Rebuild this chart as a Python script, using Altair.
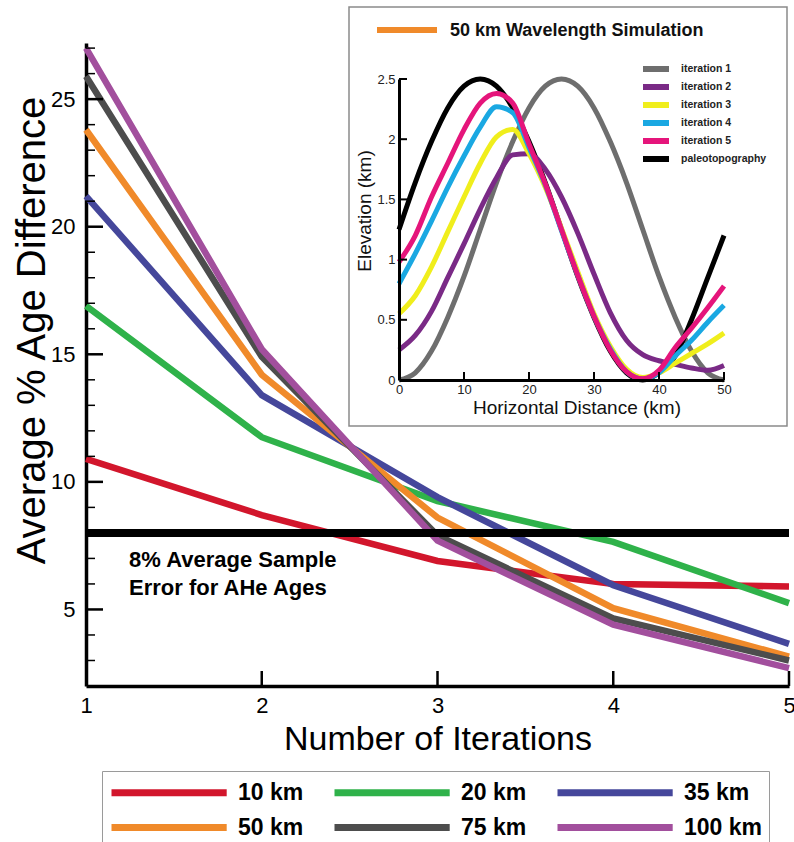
import altair as alt
import pandas as pd

# ---------------- main chart data ----------------
iterations = [1, 2, 3, 4, 5]
series_names = ["10 km", "20 km", "35 km", "50 km", "75 km", "100 km"]
series_colors = ["#d2162c", "#2fb24a", "#45479b", "#f08a2a", "#4d4d4d", "#a24f9d"]
diff_10 = [10.9, 8.7, 6.9, 6.0, 5.9]
diff_20 = [16.9, 11.75, 9.25, 7.65, 5.25]
diff_35 = [21.2, 13.4, 9.4, 5.95, 3.65]
diff_50 = [23.8, 14.2, 8.6, 5.05, 3.15]
diff_75 = [25.9, 14.9, 7.9, 4.65, 3.0]
diff_100 = [27.0, 15.2, 7.7, 4.4, 2.7]
error_level = [8]
note_lines = ["8% Average Sample", "Error for AHe Ages"]
note_x = [1.245, 1.245]
note_y = [6.92, 5.86]
y_major = [5, 10, 15, 20, 25]
y_minor = [3, 4, 6, 7, 8, 9, 11, 12, 13, 14, 16, 17, 18, 19, 21, 22, 23, 24, 26, 27]
x_labels = [1, 2, 3, 4, 5]
x_ticks = [2, 3, 4, 5]

# ---------------- inset data ----------------
inset_title = ["50 km Wavelength Simulation"]
inset_x_title = ["Horizontal Distance (km)"]
inset_y_title = ["Elevation (km)"]
inset_names = ["iteration 1", "iteration 2", "iteration 3", "iteration 4", "iteration 5", "paleotopography"]
inset_colors = ["#6e6e6e", "#7a2a86", "#f0ee1c", "#1aa8e2", "#e5157b", "#000000"]
draw_order = ["iteration 1", "paleotopography", "iteration 2", "iteration 3", "iteration 4", "iteration 5"]
dist = [0, 2.5, 5, 7.5, 10, 12.5, 15, 17.5, 20, 22.5, 25, 27.5, 30, 32.5, 35, 37.5, 40, 42.5, 45, 47.5, 50]
it1 = [0, 0.06, 0.24, 0.52, 0.86, 1.25, 1.64, 1.98, 2.26, 2.44, 2.5, 2.44, 2.26, 1.98, 1.64, 1.25, 0.86, 0.52, 0.24, 0.06, 0]
it2 = [0.25, 0.37, 0.57, 0.85, 1.13, 1.42, 1.68, 1.87, 1.88, 1.75, 1.52, 1.22, 0.88, 0.56, 0.33, 0.21, 0.16, 0.13, 0.1, 0.08, 0.12]
it3 = [0.55, 0.7, 0.94, 1.23, 1.52, 1.8, 2.02, 2.08, 1.88, 1.6, 1.26, 0.9, 0.55, 0.28, 0.09, 0.02, 0.06, 0.14, 0.22, 0.3, 0.39]
it4 = [0.8, 1.05, 1.32, 1.6, 1.86, 2.1, 2.27, 2.22, 1.93, 1.62, 1.24, 0.87, 0.53, 0.26, 0.07, 0.01, 0.06, 0.2, 0.33, 0.48, 0.62]
it5 = [0.98, 1.2, 1.52, 1.8, 2.08, 2.3, 2.38, 2.3, 1.96, 1.63, 1.25, 0.87, 0.53, 0.25, 0.07, 0.01, 0.08, 0.27, 0.43, 0.6, 0.78]
paleo = [1.25, 1.64, 1.98, 2.26, 2.44, 2.5, 2.44, 2.26, 1.98, 1.64, 1.25, 0.86, 0.52, 0.24, 0.06, 0.0, 0.06, 0.2, 0.5, 0.85, 1.2]
inset_x_labels = [0, 10, 20, 30, 40, 50]
inset_y_labels = [0, 0.5, 1, 1.5, 2, 2.5]
inset_x_ticks = [10, 20, 30, 40, 50]
inset_y_ticks = [0.5, 1, 1.5, 2, 2.5]

FONT = "Liberation Sans"

# ---------------- main chart ----------------
rows = []
for name, vals in zip(series_names, [diff_10, diff_20, diff_35, diff_50, diff_75, diff_100]):
    for it, v in zip(iterations, vals):
        rows.append({"iteration": it, "pct": v, "series": name})
main_df = pd.DataFrame(rows)

x_scale = alt.Scale(domain=[1, 5], nice=False, zero=False)
y_scale = alt.Scale(domain=[2, 27.2], nice=False, zero=False)

x_axis = alt.Axis(values=x_labels, format="d", ticks=False, grid=False, domainWidth=3.5,
                  domainColor="black", labelFontSize=22, labelColor="black", labelPadding=9,
                  labelFlush=False, title="Number of Iterations", titleFontSize=34,
                  titleFontWeight="normal", titleColor="black", titlePadding=6)
y_axis = alt.Axis(values=y_major, format="d", ticks=False, grid=False, domainWidth=3.5,
                  domainColor="black", labelFontSize=22, labelColor="black", labelPadding=11,
                  labelFlush=False, title="Average % Age Difference", titleFontSize=40,
                  titleFontWeight="normal", titleColor="black", titleX=-54, titleY=287,
                  titleAlign="center", titleBaseline="middle")

main_legend = alt.Legend(orient="none", legendX=16, legendY=728, direction="horizontal",
                         columns=3, title=None, symbolType="M-1,0H8.6", symbolSize=576,
                         symbolStrokeWidth=7, labelFontSize=23, labelFontWeight="bold",
                         labelFont=FONT, labelColor="black", labelOffset=99,
                         columnPadding=16, rowPadding=5, padding=6, strokeColor="#9a9a9a",
                         fillColor="white", labelLimit=200)

color_main = alt.Color("series:N", scale=alt.Scale(domain=series_names, range=series_colors),
                       legend=main_legend)
X = alt.X("iteration:Q", scale=x_scale, axis=x_axis)
Y = alt.Y("pct:Q", scale=y_scale, axis=y_axis)

line_layers = [
    alt.Chart(main_df).transform_filter(alt.datum.series == name)
    .mark_line(strokeWidth=6.5)
    .encode(x=X, y=Y, color=color_main)
    for name in series_names
]

err_df = pd.DataFrame({"iteration": [iterations[0]], "iteration_end": [iterations[-1]], "pct": error_level})
err_rule = alt.Chart(err_df).mark_rule(strokeWidth=8, color="black").encode(
    x=X, x2="iteration_end:Q", y=Y)

note_df = pd.DataFrame({"iteration": note_x, "pct": note_y, "note": note_lines})
note = alt.Chart(note_df).mark_text(align="left", baseline="middle", fontSize=22,
                                    fontWeight="bold", color="black").encode(
    x=X, y=Y, text="note:N")

ymaj = alt.Chart(pd.DataFrame({"pct": y_major})).mark_rule(strokeWidth=2.5, color="black").encode(
    y=Y, x=alt.value(0), x2=alt.value(17))
ymin = alt.Chart(pd.DataFrame({"pct": y_minor})).mark_rule(strokeWidth=1.5, color="black").encode(
    y=Y, x=alt.value(0), x2=alt.value(9))
xmaj = alt.Chart(pd.DataFrame({"iteration": x_ticks})).mark_rule(strokeWidth=2.5, color="black").encode(
    x=X, y=alt.value(643), y2=alt.value(628))

main = alt.layer(*line_layers, err_rule, note, ymaj, ymin, xmaj)

# ---------------- inset ----------------
irows = []
for name, vals in zip(inset_names, [it1, it2, it3, it4, it5, paleo]):
    for d, e in zip(dist, vals):
        irows.append({"dist": d, "elev": e, "curve": name})
inset_df = pd.DataFrame(irows)

ix_scale = alt.Scale(domain=[0, 50], range=[313, 638], nice=False, zero=False)
iy_scale = alt.Scale(domain=[0, 2.5], range=[337, 36], nice=False, zero=False)

ix_axis = alt.Axis(orient="bottom", offset=-306, values=inset_x_labels, format="d",
                   ticks=False, grid=False, domainWidth=3, domainColor="black",
                   labelFontSize=13, labelColor="#222", labelPadding=3, labelFlush=False,
                   title=None, zindex=2)
iy_axis = alt.Axis(orient="left", offset=-313, values=inset_y_labels, format=".1~f",
                   ticks=False, grid=False, domainWidth=3, domainColor="black",
                   labelFontSize=13, labelColor="#222", labelPadding=4, labelFlush=False,
                   title=None, zindex=2)

inset_legend = alt.Legend(orient="none", legendX=554, legendY=20, title=None,
                          symbolType="M-1,0H7.67", symbolSize=36, symbolStrokeWidth=6,
                          labelFontSize=10.5, labelFontWeight="bold", labelFont=FONT,
                          labelColor="#222", labelOffset=29, rowPadding=-6, padding=0,
                          labelLimit=200)
color_inset = alt.Color("curve:N", scale=alt.Scale(domain=inset_names, range=inset_colors),
                        legend=inset_legend)
IX = alt.X("dist:Q", scale=ix_scale, axis=ix_axis)
IY = alt.Y("elev:Q", scale=iy_scale, axis=iy_axis)

one = pd.DataFrame({"title": inset_title, "xt": inset_x_title, "yt": inset_y_title})
box = alt.Chart(one).mark_rect(fill="white", stroke="#8a8a8a", strokeWidth=1.5).encode(
    x=alt.value(263), x2=alt.value(701), y=alt.value(-36), y2=alt.value(383))
bar = alt.Chart(one).mark_rule(color="#f08a2a", strokeWidth=6).encode(
    x=alt.value(291), x2=alt.value(351), y=alt.value(-13))
ttl = alt.Chart(one).mark_text(align="left", baseline="middle", fontSize=18, fontWeight="bold",
                               color="#111").encode(x=alt.value(364), y=alt.value(-12), text="title:N")
xttl = alt.Chart(one).mark_text(align="center", baseline="middle", fontSize=19,
                                color="#111").encode(x=alt.value(491), y=alt.value(365), text="xt:N")
yttl = alt.Chart(one).mark_text(align="center", baseline="middle", fontSize=19, angle=270,
                                color="#111").encode(x=alt.value(279), y=alt.value(168), text="yt:N")

inset_lines = [
    alt.Chart(inset_df).transform_filter(alt.datum.curve == name)
    .mark_line(strokeWidth=5, interpolate="monotone")
    .encode(x=IX, y=IY, color=color_inset)
    for name in draw_order
]
ixt = alt.Chart(pd.DataFrame({"dist": inset_x_ticks})).mark_rule(strokeWidth=2, color="black").encode(
    x=IX, y=alt.value(337), y2=alt.value(329))
iyt = alt.Chart(pd.DataFrame({"elev": inset_y_ticks})).mark_rule(strokeWidth=2, color="black").encode(
    y=IY, x=alt.value(313), x2=alt.value(321))

inset = alt.layer(box, bar, ttl, xttl, yttl, *inset_lines, ixt, iyt)

chart = (
    alt.layer(main, inset)
    .resolve_scale(x="independent", y="independent", color="independent")
    .properties(width=703, height=643, autosize=alt.AutoSizeParams(type="none"),
                padding={"left": 86, "top": 43, "right": 5, "bottom": 156})
    .configure(font=FONT, view=alt.ViewConfig(stroke=None))
)

chart.save("out.html", embed_options={"renderer": "svg", "actions": False})
